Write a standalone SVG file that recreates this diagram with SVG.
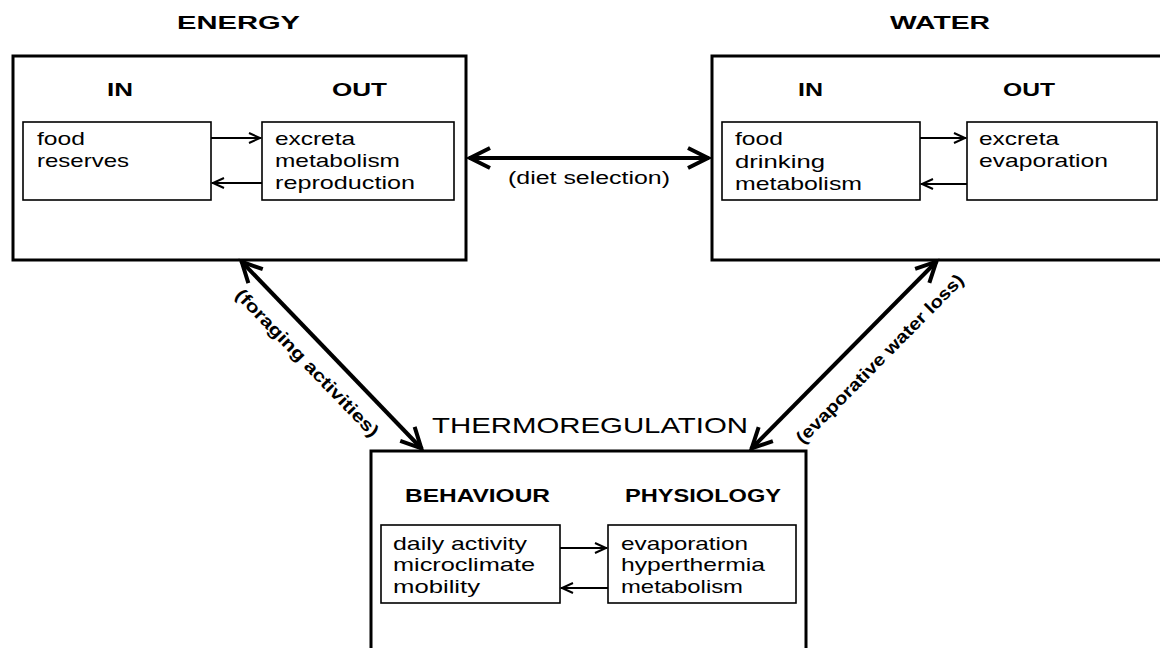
<svg xmlns="http://www.w3.org/2000/svg" width="1160" height="648" viewBox="0 0 1160 648">
<style>
  text { font-family: "Liberation Sans", Arial, sans-serif; fill: #000; }
  .title { font-size: 19px; font-weight: bold; }
  .head { font-size: 18px; font-weight: bold; }
  .body { font-size: 19px; }
  .big { font-size: 22.5px; }
  .lab { font-size: 18px; }
  .rot { font-size: 17.5px; font-weight: bold; }
  .outer { fill: #fff; stroke: #000; stroke-width: 3; }
  .inner { fill: #fff; stroke: #000; stroke-width: 1.6; }
  .thick { stroke: #000; stroke-width: 4; fill: none; marker-start: url(#bigHead); marker-end: url(#bigHead); }
  .thin { stroke: #000; stroke-width: 2; fill: none; marker-end: url(#smallHead); }
</style>
<defs>
  <marker id="bigHead" viewBox="-26 -14 30 28" markerWidth="30" markerHeight="28" refX="0" refY="0" markerUnits="userSpaceOnUse" orient="auto-start-reverse">
    <path d="M-21,-10 L-1,0 L-21,10" fill="none" stroke="#000" stroke-width="4"/>
  </marker>
  <marker id="smallHead" viewBox="-16 -8 18 16" markerWidth="18" markerHeight="16" refX="0" refY="0" markerUnits="userSpaceOnUse" orient="auto">
    <path d="M-12,-5 L-1,0 L-12,5" fill="none" stroke="#000" stroke-width="2"/>
  </marker>
</defs>
<rect width="1160" height="648" fill="#fff"/>

<g id="energy">
  <text class="title" x="177" y="29" textLength="123" lengthAdjust="spacingAndGlyphs">ENERGY</text>
  <rect class="outer" x="13" y="56" width="453" height="204"/>
  <text class="head" x="107" y="96" textLength="26" lengthAdjust="spacingAndGlyphs">IN</text>
  <text class="head" x="332" y="96" textLength="55" lengthAdjust="spacingAndGlyphs">OUT</text>
  <g id="energy-in">
    <rect class="inner" x="23" y="122" width="188" height="78"/>
    <text class="body" x="37" y="145" textLength="48" lengthAdjust="spacingAndGlyphs">food</text>
    <text class="body" x="37" y="167" textLength="92" lengthAdjust="spacingAndGlyphs">reserves</text>
  </g>
  <g id="energy-out">
    <rect class="inner" x="262" y="122" width="192" height="78"/>
    <text class="body" x="275" y="145" textLength="80" lengthAdjust="spacingAndGlyphs">excreta</text>
    <text class="body" x="275" y="167" textLength="125" lengthAdjust="spacingAndGlyphs">metabolism</text>
    <text class="body" x="275" y="189" textLength="140" lengthAdjust="spacingAndGlyphs">reproduction</text>
  </g>
</g>

<g id="water">
  <text class="title" x="890" y="29" textLength="100" lengthAdjust="spacingAndGlyphs">WATER</text>
  <rect class="outer" x="712" y="56" width="452" height="204"/>
  <text class="head" x="798" y="96" textLength="25" lengthAdjust="spacingAndGlyphs">IN</text>
  <text class="head" x="1003" y="96" textLength="52" lengthAdjust="spacingAndGlyphs">OUT</text>
  <g id="water-in">
    <rect class="inner" x="722" y="122" width="198" height="78"/>
    <text class="body" x="735" y="145" textLength="48" lengthAdjust="spacingAndGlyphs">food</text>
    <text class="body" x="735" y="168" textLength="90" lengthAdjust="spacingAndGlyphs">drinking</text>
    <text class="body" x="735" y="190" textLength="127" lengthAdjust="spacingAndGlyphs">metabolism</text>
  </g>
  <g id="water-out">
    <rect class="inner" x="967" y="122" width="190" height="78"/>
    <text class="body" x="979" y="145" textLength="80" lengthAdjust="spacingAndGlyphs">excreta</text>
    <text class="body" x="979" y="167" textLength="129" lengthAdjust="spacingAndGlyphs">evaporation</text>
  </g>
</g>

<g id="thermoregulation">
  <text class="big" x="432" y="433" textLength="316" lengthAdjust="spacingAndGlyphs">THERMOREGULATION</text>
  <rect class="outer" x="371" y="451" width="435" height="205"/>
  <text class="title" x="405" y="502" textLength="145" lengthAdjust="spacingAndGlyphs">BEHAVIOUR</text>
  <text class="title" x="625" y="502" textLength="156" lengthAdjust="spacingAndGlyphs">PHYSIOLOGY</text>
  <g id="behaviour">
    <rect class="inner" x="381" y="525" width="179" height="78"/>
    <text class="body" x="393" y="550" textLength="134" lengthAdjust="spacingAndGlyphs">daily activity</text>
    <text class="body" x="393" y="571" textLength="142" lengthAdjust="spacingAndGlyphs">microclimate</text>
    <text class="body" x="393" y="593" textLength="87" lengthAdjust="spacingAndGlyphs">mobility</text>
  </g>
  <g id="physiology">
    <rect class="inner" x="608" y="525" width="188" height="78"/>
    <text class="body" x="621" y="550" textLength="127" lengthAdjust="spacingAndGlyphs">evaporation</text>
    <text class="body" x="621" y="571" textLength="144" lengthAdjust="spacingAndGlyphs">hyperthermia</text>
    <text class="body" x="621" y="593" textLength="122" lengthAdjust="spacingAndGlyphs">metabolism</text>
  </g>
</g>

<g id="connectors">
  <line class="thin" x1="211" y1="138" x2="261" y2="138"/>
  <line class="thin" x1="262" y1="183" x2="212" y2="183"/>
  <line class="thin" x1="920" y1="138" x2="966" y2="138"/>
  <line class="thin" x1="967" y1="184" x2="921" y2="184"/>
  <line class="thin" x1="560" y1="548" x2="607" y2="548"/>
  <line class="thin" x1="608" y1="588" x2="561" y2="588"/>

  <line class="thick" x1="469" y1="158" x2="709" y2="158"/>
  <text class="lab" x="508" y="184" textLength="162" lengthAdjust="spacingAndGlyphs">(diet selection)</text>

  <line class="thick" x1="241" y1="261" x2="422" y2="449"/>
  <text class="rot" transform="translate(303,367) rotate(46)" text-anchor="middle" textLength="198" lengthAdjust="spacingAndGlyphs">(foraging activities)</text>

  <line class="thick" x1="937" y1="261" x2="751" y2="449"/>
  <text class="rot" transform="translate(884,363) rotate(-45.3)" text-anchor="middle" textLength="230" lengthAdjust="spacingAndGlyphs">(evaporative water loss)</text>
</g>
</svg>
